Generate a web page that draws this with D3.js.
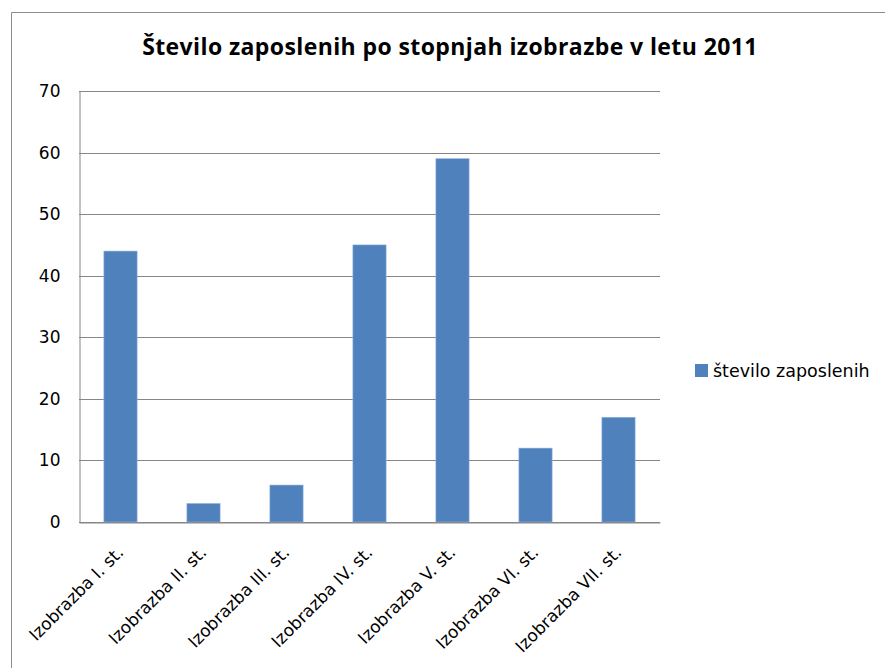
<!DOCTYPE html>
<html>
<head>
<meta charset="utf-8">
<script src="https://cdn.jsdelivr.net/npm/d3@7"></script>
<style>
  html, body { margin: 0; padding: 0; background: #fff; }
  svg { display: block; }
</style>
</head>
<body>
<svg id="chart" width="885" height="668"></svg>
<script>
// Employees by education level, 2011
const categories = [
  "Izobrazba I. st.", "Izobrazba II. st.", "Izobrazba III. st.",
  "Izobrazba IV. st.", "Izobrazba V. st.", "Izobrazba VI. st.",
  "Izobrazba VII. st."
];
const employees = [44, 3, 6, 45, 59, 12, 17];
const yTicks = [0, 10, 20, 30, 40, 50, 60, 70];
const seriesName = "število zaposlenih";
const titleText = "Število zaposlenih po stopnjah izobrazbe v letu 2011";

const svg = d3.select("#chart");
const W = 885, H = 668;
const plot = { left: 79, right: 660, top: 91, bottom: 522 };
const barColor = "#4f81bd";
const gridColor = "#868686";
const labelFont = "'DejaVu Sans', Verdana, sans-serif";

// chart frame
svg.append("path")
  .attr("d", `M11.5,${H} V12.5 H${W}`)
  .attr("fill", "none")
  .attr("stroke", "#8c8c8c")
  .attr("stroke-width", 1);

// title
svg.append("text")
  .attr("x", 450).attr("y", 55)
  .attr("text-anchor", "middle")
  .attr("font-family", "'Open Sans', Lato, sans-serif")
  .attr("font-weight", "bold")
  .attr("font-size", 23)
  .attr("letter-spacing", 0.4)
  .attr("fill", "#000")
  .text(titleText);

const x = d3.scaleBand()
  .domain(categories)
  .range([plot.left, plot.right])
  .paddingInner(0.6)
  .paddingOuter(0.3);

const y = d3.scaleLinear()
  .domain([0, 70])
  .range([plot.bottom, plot.top]);

// horizontal gridlines
svg.append("g")
  .selectAll("line")
  .data(yTicks)
  .join("line")
  .attr("x1", plot.left).attr("x2", plot.right)
  .attr("y1", d => Math.round(y(d)) + 0.5)
  .attr("y2", d => Math.round(y(d)) + 0.5)
  .attr("stroke", gridColor)
  .attr("stroke-width", 1);

// y axis
const yAxis = svg.append("g")
  .attr("transform", `translate(${plot.left + 0.5},0)`)
  .call(d3.axisLeft(y).tickValues(yTicks).tickSize(0).tickPadding(19));
yAxis.select(".domain").attr("stroke", gridColor);
yAxis.selectAll("text")
  .attr("font-family", labelFont)
  .attr("font-size", 17)
  .attr("fill", "#000");

// bars
svg.append("g")
  .selectAll("rect")
  .data(categories.map((c, i) => ({ c, v: employees[i] })))
  .join("rect")
  .attr("x", d => x(d.c))
  .attr("width", x.bandwidth())
  .attr("y", d => y(d.v))
  .attr("height", d => y(0) - y(d.v))
  .attr("fill", barColor)
  .attr("stroke", "#8fb0dc")
  .attr("stroke-width", 0.6);

// x axis with rotated labels
const xAxis = svg.append("g")
  .attr("transform", `translate(0,${Math.round(y(0)) + 0.5})`)
  .call(d3.axisBottom(x).tickSize(0).tickPadding(0));
xAxis.select(".domain").attr("stroke", gridColor);
xAxis.selectAll("text")
  .attr("font-family", labelFont)
  .attr("font-size", 17)
  .attr("fill", "#000")
  .attr("text-anchor", "end")
  .attr("dy", 0)
  .attr("transform", "translate(4,31) rotate(-45)");

// legend
const lg = svg.append("g").attr("transform", "translate(695,364)");
lg.append("rect")
  .attr("width", 13).attr("height", 13)
  .attr("fill", barColor);
lg.append("text")
  .attr("x", 18).attr("y", 13)
  .attr("font-family", labelFont)
  .attr("font-size", 17.5)
  .attr("fill", "#000")
  .text(seriesName);
</script>
</body>
</html>
